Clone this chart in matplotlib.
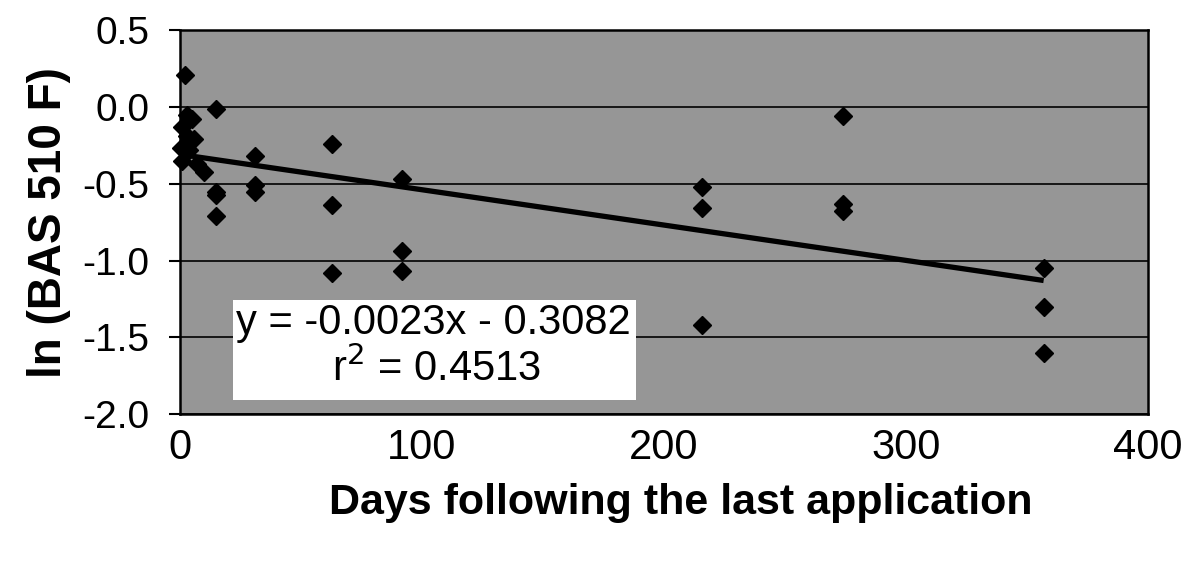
import matplotlib
matplotlib.use("Agg")
import matplotlib.pyplot as plt
from matplotlib.patches import Rectangle
import numpy as np

plt.rcParams['font.family'] = ['Liberation Sans', 'DejaVu Sans']

# Data (days, ln(BAS 510 F))
days = [2, 15, 3, 5, 1, 3, 6, 0.5, 4, 1, 7, 10,
        15, 15, 15,
        31, 31, 31,
        63, 63, 63,
        92, 92, 92,
        216, 216, 216,
        274, 274, 274,
        357, 357, 357]
ln_values = [0.21, -0.01, -0.05, -0.08, -0.13, -0.19, -0.21, -0.27, -0.28, -0.35, -0.37, -0.42,
             -0.55, -0.71, -0.57,
             -0.32, -0.51, -0.55,
             -0.24, -0.64, -1.08,
             -0.47, -0.935, -1.065,
             -0.52, -0.655, -1.42,
             -0.06, -0.63, -0.68,
             -1.05, -1.30, -1.60]

slope = -0.0023
intercept = -0.3082
fit_range = [0, 357]
eq_text = "y = -0.0023x - 0.3082"
r2_text = "r$^2$ = 0.4513"

x_ticks = [0, 100, 200, 300, 400]
y_ticks = [0.5, 0.0, -0.5, -1.0, -1.5, -2.0]

fig = plt.figure(figsize=(11.82, 5.81), dpi=100)
ax = fig.add_axes([0.152, 0.287, 0.819, 0.661])
ax.set_facecolor('#969696')

ax.set_xlim(0, 400)
ax.set_ylim(-2.0, 0.5)

for yv in y_ticks:
    ax.axhline(yv, color='black', lw=1.2, zorder=1)

fx = np.array(fit_range, dtype=float)
ax.plot(fx, slope * fx + intercept, color='black', lw=3.8, zorder=3, solid_capstyle='butt')

ax.plot(days, ln_values, linestyle='none', marker='D', markersize=9,
        color='black', zorder=4, clip_on=False)

ax.add_patch(Rectangle((0.055, 0.036), 0.416, 0.261, transform=ax.transAxes,
                       facecolor='white', edgecolor='none', zorder=5))
ax.text(0.262, 0.238, eq_text, transform=ax.transAxes, ha='center', va='center',
        fontsize=30, zorder=6)
ax.text(0.265, 0.118, r2_text, transform=ax.transAxes, ha='center', va='center',
        fontsize=30, zorder=6)

ax.set_xticks(x_ticks)
ax.set_xticklabels([str(v) for v in x_ticks])
ax.set_yticks(y_ticks)
ax.set_yticklabels([f"{v:.1f}" for v in y_ticks])
ax.tick_params(axis='x', length=0, pad=10, labelsize=30)
ax.tick_params(axis='y', length=8, width=1.5, pad=14, labelsize=28, direction='out')

for s in ax.spines.values():
    s.set_linewidth(1.8)
    s.set_color('black')

ax.set_xlabel("Days following the last application", fontsize=31, fontweight='bold')
ax.xaxis.set_label_coords(0.518, -0.18)
ax.set_ylabel("ln (BAS 510 F)", fontsize=33, fontweight='bold', labelpad=8)

fig.savefig("out.png", dpi=100, facecolor='white')
